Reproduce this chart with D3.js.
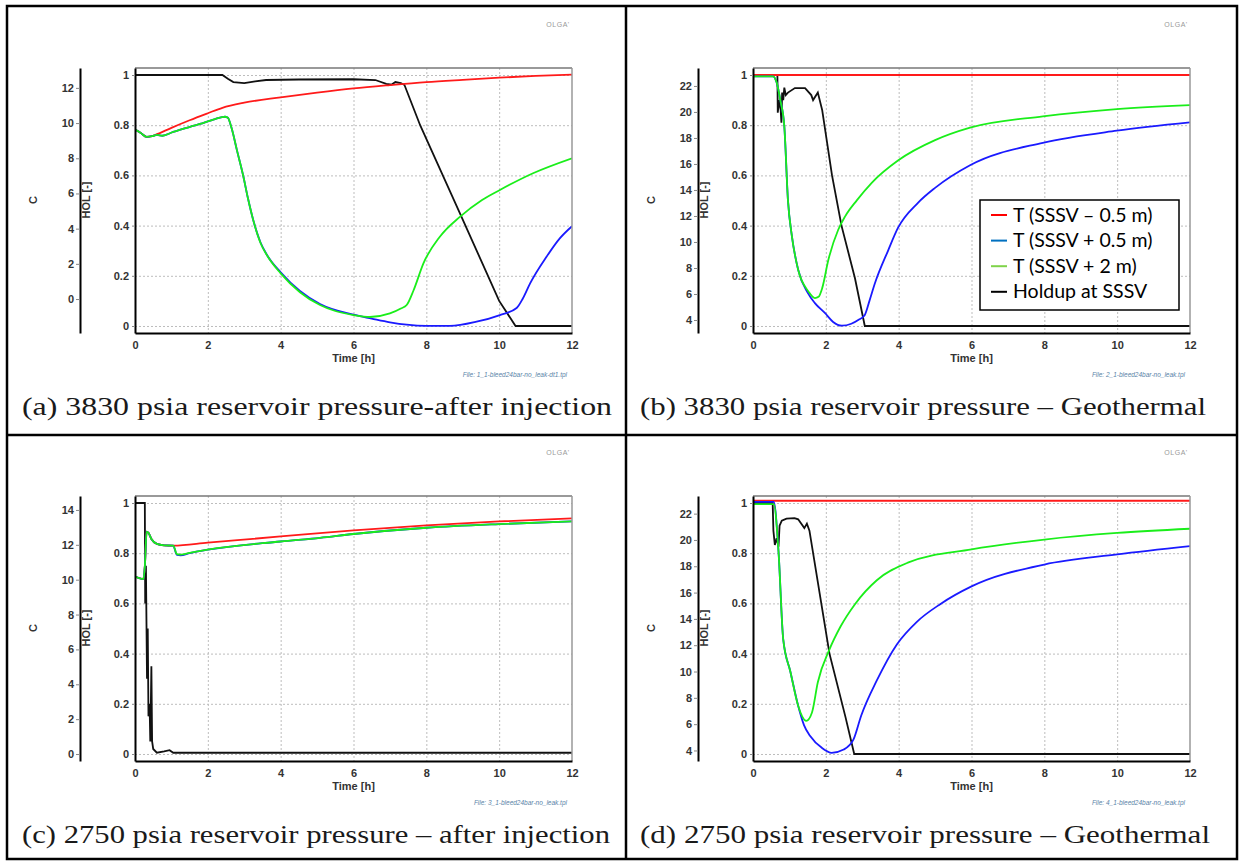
<!DOCTYPE html>
<html>
<head>
<meta charset="utf-8">
<script src="https://cdn.jsdelivr.net/npm/d3@7"></script>
<style>
  body { margin: 0; background: #fff; }
  .tick text { font-family: "Liberation Sans", Arial, sans-serif; font-weight: bold; font-size: 11px; fill: #333; }
  .grid line { stroke: #bdbdbd; stroke-dasharray: 2,2; }
  .grid .domain { display: none; }
  .caption { font-family: "Liberation Serif", "Times New Roman", serif; font-size: 26px; fill: #1a1a1a; }
  .axlab { font-family: "Liberation Sans", Arial, sans-serif; font-weight: bold; font-size: 11px; fill: #333; }
</style>
</head>
<body>
<svg id="chart" width="1243" height="861"></svg>
<script>
// ---- tick values ----
const timeTicks = [0, 2, 4, 6, 8, 10, 12];
const holTicks = [0, 0.2, 0.4, 0.6, 0.8, 1];
const cTicksA = [0, 2, 4, 6, 8, 10, 12];
const cTicksB = [4, 6, 8, 10, 12, 14, 16, 18, 20, 22];
const cTicksC = [0, 2, 4, 6, 8, 10, 12, 14];
const cTicksD = [4, 6, 8, 10, 12, 14, 16, 18, 20, 22];

const legendNames = ["T (SSSV \u2013 0.5 m)", "T (SSSV + 0.5 m)", "T (SSSV + 2 m)", "Holdup at SSSV"];

// ---- (a) 3830 psia after injection : [time h, C] and [time h, HOL] ----
const aRed = [[0,9.63],[0.15,9.45],[0.32,9.22],[0.47,9.26],[0.55,9.32],[1,9.73],[1.5,10.16],[2,10.56],[2.4,10.87],[3,11.16],[4,11.46],[5,11.73],[6,11.97],[7,12.16],[8,12.33],[9,12.46],[10,12.58],[11,12.68],[12,12.75]];
const aBlue = [[0,9.63],[0.15,9.45],[0.32,9.22],[0.47,9.26],[0.6,9.33],[0.75,9.28],[1.05,9.5],[1.78,9.95],[2.2,10.23],[2.47,10.36],[2.55,10.3],[2.65,9.73],[2.8,8.45],[2.97,7.02],[3.1,5.74],[3.25,4.46],[3.45,3.2],[3.62,2.52],[4,1.52],[4.53,0.46],[5.08,-0.28],[6,-0.89],[6.5,-1.11],[7,-1.32],[7.46,-1.46],[8,-1.53],[8.65,-1.53],[9.38,-1.29],[10.02,-0.91],[10.48,-0.51],[10.65,0.03],[10.85,0.89],[11.3,2.4],[11.67,3.46],[12,4.14]];
const aGreen = [[0,9.63],[0.15,9.45],[0.32,9.22],[0.47,9.26],[0.6,9.33],[0.75,9.28],[1.05,9.5],[1.78,9.95],[2.2,10.23],[2.47,10.36],[2.55,10.3],[2.65,9.73],[2.8,8.45],[2.97,7.02],[3.1,5.74],[3.25,4.46],[3.45,3.17],[3.62,2.5],[4,1.46],[4.53,0.39],[5.08,-0.34],[5.5,-0.68],[6,-0.91],[6.45,-1.02],[7,-0.82],[7.3,-0.54],[7.46,-0.34],[7.65,0.5],[7.92,2.03],[8.37,3.54],[8.92,4.67],[9.53,5.63],[10.02,6.2],[10.93,7.15],[12,8.0]];
const aBlack = [[0,1],[2.4,1],[2.55,0.985],[2.7,0.972],[3,0.968],[3.3,0.975],[3.6,0.98],[4.5,0.982],[6,0.983],[6.6,0.98],[6.9,0.965],[7.05,0.962],[7.15,0.972],[7.3,0.968],[7.4,0.96],[7.83,0.8],[8.92,0.45],[10,0.1],[10.45,0],[12,0]];

// ---- (b) 3830 psia geothermal ----
const bRed = [[0,22.84],[12,22.84]];
const bBlue = [[0,22.74],[0.55,22.74],[0.65,22.26],[0.75,20.91],[0.86,18.89],[0.96,13.2],[1.07,10.42],[1.24,7.86],[1.5,6.1],[1.7,5.3],[1.98,4.52],[2.2,3.85],[2.44,3.56],[2.7,3.71],[2.89,4.0],[3.07,4.39],[3.2,5.49],[3.35,6.84],[3.71,9.34],[3.98,11.08],[4.53,13.01],[5.0,14.16],[5.96,15.9],[7.96,17.63],[9.99,18.56],[12,19.2]];
const bGreen = [[0,22.74],[0.55,22.74],[0.65,22.26],[0.75,20.91],[0.86,18.89],[0.96,13.2],[1.07,10.42],[1.24,7.86],[1.52,6.2],[1.7,5.68],[1.8,5.78],[1.9,6.45],[2.07,8.63],[2.34,10.94],[2.53,11.97],[2.85,13.2],[3.26,14.55],[3.99,16.28],[5,17.83],[5.96,18.79],[7.96,19.66],[9.99,20.22],[12,20.53]];
const bBlack = [[0,1],[0.67,1],[0.68,0.85],[0.72,0.9],[0.76,0.86],[0.78,0.81],[0.8,0.93],[0.83,0.9],[0.86,0.95],[0.9,0.92],[0.96,0.93],[1.15,0.948],[1.43,0.948],[1.6,0.92],[1.65,0.9],[1.78,0.93],[1.9,0.86],[2.17,0.6],[2.43,0.4],[2.8,0.19],[3.07,0],[12,0]];

// ---- (c) 2750 psia after injection ----
const cRed = [[0,10.18],[0.23,10.04],[0.27,10.76],[0.32,12.76],[0.37,12.69],[0.45,12.33],[0.6,12.05],[0.8,11.97],[1.05,11.95],[2,12.12],[4,12.48],[6,12.83],[8,13.12],[10,13.34],[12,13.52]];
const cBlue = [[0,10.18],[0.23,10.04],[0.27,10.76],[0.32,12.76],[0.37,12.69],[0.45,12.33],[0.6,12.05],[0.8,11.97],[1.05,11.95],[1.15,11.42],[1.25,11.4],[1.5,11.52],[2,11.72],[4,12.19],[5.08,12.4],[6,12.62],[8,12.98],[10,13.19],[12,13.34]];
const cGreen = [[0,10.18],[0.23,10.04],[0.27,10.76],[0.32,12.76],[0.37,12.69],[0.45,12.33],[0.6,12.05],[0.8,11.97],[1.05,11.95],[1.15,11.47],[1.25,11.44],[1.5,11.54],[2,11.73],[4,12.19],[5.08,12.4],[6,12.62],[8,12.98],[10,13.19],[12,13.34]];
const cBlack = [[0,1],[0.27,1],[0.28,0.6],[0.3,0.75],[0.33,0.3],[0.35,0.5],[0.37,0.15],[0.4,0.2],[0.42,0.05],[0.45,0.35],[0.47,0.05],[0.5,0.02],[0.6,0.005],[0.8,0.01],[0.95,0.015],[1.05,0.005],[12,0.005]];

// ---- (d) 2750 psia geothermal ----
const dRed = [[0,22.98],[12,22.98]];
const dBlue = [[0,22.9],[0.57,22.9],[0.7,19.15],[0.83,12.44],[1.03,9.95],[1.24,7.4],[1.4,5.93],[1.57,5.1],[1.89,4.2],[2.16,3.82],[2.49,4.07],[2.76,4.84],[2.97,6.64],[3.4,9.32],[3.95,12.06],[4.5,13.78],[5.14,15.12],[6,16.47],[8,18.13],[10,18.9],[12,19.53]];
const dGreen = [[0,22.73],[0.57,22.73],[0.7,19.15],[0.83,12.44],[1.03,9.95],[1.24,7.4],[1.46,6.25],[1.62,6.89],[1.78,9.18],[2.1,11.68],[2.4,13.4],[2.8,15.12],[3.4,16.94],[4.27,18.29],[6,19.28],[8,20.03],[10,20.53],[12,20.85]];
const dBlack = [[0,1],[0.54,1],[0.56,0.89],[0.6,0.833],[0.65,0.86],[0.7,0.826],[0.73,0.91],[0.79,0.93],[0.92,0.938],[1.14,0.94],[1.24,0.935],[1.41,0.9],[1.48,0.918],[1.55,0.89],[2.1,0.4],[2.54,0.147],[2.78,0],[12,0]];

var svg = d3.select("#chart");

//table borders
var tbl = svg.append("g").attr("class", "table");
tbl.append("rect").attr("x", 7).attr("y", 6).attr("width", 1230).attr("height", 853)
    .attr("fill", "none").attr("stroke", "#000").attr("stroke-width", 2.5);
tbl.append("line").attr("x1", 626).attr("x2", 626).attr("y1", 6).attr("y2", 859)
    .attr("stroke", "#000").attr("stroke-width", 2.5);
tbl.append("line").attr("x1", 7).attr("x2", 1237).attr("y1", 435).attr("y2", 435)
    .attr("stroke", "#000").attr("stroke-width", 2.5);

var panels = [
    {id: "a", dx: 0, dy: 0, cDomain: [-1.93, 13.13], cTicks: cTicksA,
     red: aRed, blue: aBlue, green: aGreen, black: aBlack,
     file: "File: 1_1-bleed24bar-no_leak-dt1.tpl",
     caption: "(a) 3830 psia reservoir pressure-after injection", capW: 590},
    {id: "b", dx: 618, dy: 0, cDomain: [3.0, 23.38], cTicks: cTicksB,
     red: bRed, blue: bBlue, green: bGreen, black: bBlack,
     file: "File: 2_1-bleed24bar-no_leak.tpl",
     caption: "(b) 3830 psia reservoir pressure \u2013 Geothermal", capW: 566, legend: true},
    {id: "c", dx: 0, dy: 428, cDomain: [-0.4, 14.8], cTicks: cTicksC,
     red: cRed, blue: cBlue, green: cGreen, black: cBlack,
     file: "File: 3_1-bleed24bar-no_leak.tpl",
     caption: "(c) 2750 psia reservoir pressure \u2013 after injection", capW: 588},
    {id: "d", dx: 618, dy: 428, cDomain: [3.2, 23.34], cTicks: cTicksD,
     red: dRed, blue: dBlue, green: dGreen, black: dBlack,
     file: "File: 4_1-bleed24bar-no_leak.tpl",
     caption: "(d) 2750 psia reservoir pressure \u2013 Geothermal", capW: 570}
];

//plot box inside a cell (left column coords)
var plotL = 135, plotR = 572, plotT = 68, plotB = 333;

panels.forEach(function (p) {
    var g = svg.append("g").attr("transform", "translate(" + p.dx + "," + p.dy + ")");

    var x = d3.scaleLinear().domain([0, 12]).range([plotL, plotR]);
    var yH = d3.scaleLinear().domain([-0.0279, 1.0279]).range([plotB, plotT]);
    var yC = d3.scaleLinear().domain(p.cDomain).range([plotB, plotT]);

    // gridlines
    g.append("g").attr("class", "grid")
        .attr("transform", "translate(0," + plotT + ")")
        .call(d3.axisBottom(x).tickValues(timeTicks.slice(1, -1)).tickSize(plotB - plotT).tickFormat(""));
    g.append("g").attr("class", "grid")
        .attr("transform", "translate(" + plotL + ",0)")
        .call(d3.axisRight(yH).tickValues(holTicks).tickSize(plotR - plotL).tickFormat(""));

    // lines
    g.append("clipPath").attr("id", "clip" + p.id).append("rect")
        .attr("x", plotL).attr("y", plotT).attr("width", plotR - plotL).attr("height", plotB - plotT);
    var lines = g.append("g").attr("clip-path", "url(#clip" + p.id + ")");
    var tLine = d3.line().x(function (d) { return x(d[0]); }).y(function (d) { return yC(d[1]); })
        .curve(d3.curveMonotoneX);
    var hLine = d3.line().x(function (d) { return x(d[0]); }).y(function (d) { return yH(d[1]); });

    lines.append("path").datum(p.black).attr("d", hLine)
        .attr("fill", "none").attr("stroke", "#111").attr("stroke-width", 1.8);
    lines.append("path").datum(p.red).attr("d", tLine)
        .attr("fill", "none").attr("stroke", "#ff1a1a").attr("stroke-width", 1.8);
    lines.append("path").datum(p.blue).attr("d", tLine)
        .attr("fill", "none").attr("stroke", "#1a1aff").attr("stroke-width", 1.8);
    lines.append("path").datum(p.green).attr("d", tLine)
        .attr("fill", "none").attr("stroke", "#1aee1a").attr("stroke-width", 1.8);

    // frame
    g.append("line").attr("x1", plotL).attr("x2", plotR).attr("y1", plotT).attr("y2", plotT)
        .attr("stroke", "#777").attr("stroke-width", 1.5);
    g.append("line").attr("x1", plotR).attr("x2", plotR).attr("y1", plotT).attr("y2", plotB)
        .attr("stroke", "#999").attr("stroke-width", 1.5);

    // axes
    var xAxis = g.append("g").attr("transform", "translate(0," + plotB + ")")
        .call(d3.axisBottom(x).tickValues(timeTicks).tickSize(0).tickPadding(8).tickFormat(d3.format("d")));
    xAxis.select(".domain").attr("stroke", "#000").attr("stroke-width", 2);

    var hAxis = g.append("g").attr("transform", "translate(" + plotL + ",0)")
        .call(d3.axisLeft(yH).tickValues(holTicks).tickSize(3).tickSizeOuter(0).tickPadding(3).tickFormat(d3.format("~g")));
    hAxis.select(".domain").attr("stroke", "#000").attr("stroke-width", 2);
    hAxis.selectAll(".tick line").attr("stroke", "#888");

    var cAxis = g.append("g").attr("transform", "translate(80,0)")
        .call(d3.axisLeft(yC).tickValues(p.cTicks).tickSize(4).tickSizeOuter(0).tickPadding(2));
    cAxis.select(".domain").attr("stroke", "#000").attr("stroke-width", 2);
    cAxis.selectAll(".tick line").attr("stroke", "#888");

    // axis labels
    var lab = function (t, tx, ty, rot) {
        g.append("text").attr("class", "axlab").text(t)
            .attr("transform", "translate(" + tx + "," + ty + ")" + (rot ? "rotate(-90)" : ""))
            .attr("text-anchor", "middle");
    };
    lab("Time [h]", (plotL + plotR) / 2, 362, false);
    lab("C", 37, 200, true);
    lab("HOL [-]", 90, 200, true);

    // OLGA mark and file name
    g.append("text").text("OLGA'").attr("x", 558).attr("y", 27).attr("text-anchor", "middle")
        .style("font-family", "'Liberation Sans', Arial, sans-serif").style("font-size", "7px")
        .style("fill", "#999").style("letter-spacing", "0.5px");
    g.append("text").text(p.file).attr("x", 567).attr("y", 377).attr("text-anchor", "end")
        .style("font-family", "'Liberation Sans', Arial, sans-serif").style("font-size", "6.5px")
        .style("font-style", "italic").style("fill", "#5a84a8");

    // caption
    g.append("text").attr("class", "caption").text(p.caption).attr("x", 22).attr("y", 415)
        .attr("textLength", p.capW).attr("lengthAdjust", "spacingAndGlyphs");

    // legend (only in b)
    if (p.legend) {
        var legColors = ["#ff0000", "#0070c0", "#7fd34a", "#000000"];
        var leg = g.append("g").attr("class", "legend");
        leg.append("rect").attr("x", 362).attr("y", 200).attr("width", 199).attr("height", 110)
            .attr("fill", "#fff").attr("stroke", "#000").attr("stroke-width", 1.5);
        legendNames.forEach(function (name, i) {
            var cy = 215 + i * 25.6;
            leg.append("line").attr("x1", 373).attr("x2", 389).attr("y1", cy).attr("y2", cy)
                .attr("stroke", legColors[i]).attr("stroke-width", 2);
            leg.append("text").text(name).attr("x", 395).attr("y", cy + 6.5)
                .style("font-family", "Lato, 'Open Sans', sans-serif").style("font-size", "19.5px")
                .style("fill", "#000");
        });
    }
});
</script>
</body>
</html>
